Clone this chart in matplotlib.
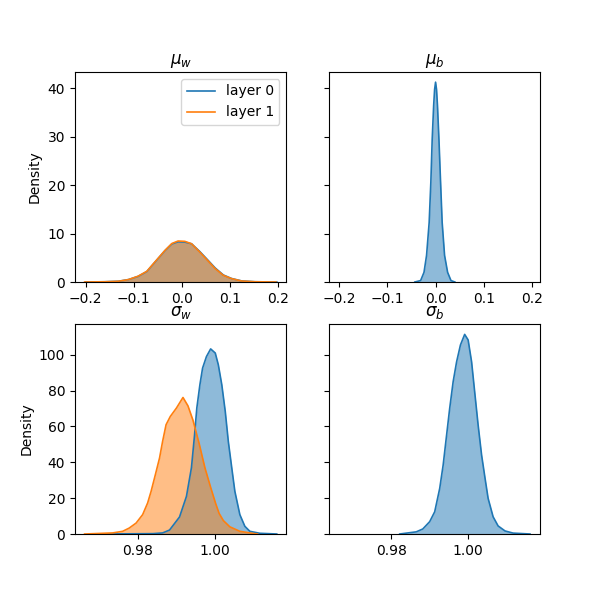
"""
Posterior densities of the layer parameters (mu / sigma for weights and biases).
"""

import matplotlib

matplotlib.use("Agg")

import matplotlib.pyplot as plt  # noqa: E402

# --- data (x, density) ------------------------------------------------------
mu_w_x0 = [-0.200, -0.160, -0.132, -0.111, -0.091, -0.073, -0.056, -0.035, -0.021,
           -0.008, 0.006, 0.020, 0.037, 0.055, 0.069, 0.086, 0.103, 0.124, 0.152, 0.197]
mu_w_y0 = [0.0, 0.05, 0.15, 0.5, 1.15, 2.15, 4.1, 6.5, 7.85, 8.3, 8.25, 7.9, 6.3,
           4.4, 2.9, 1.45, 0.72, 0.22, 0.05, 0.0]
mu_w_x1 = [-0.202, -0.160, -0.132, -0.111, -0.091, -0.073, -0.056, -0.035, -0.021,
           -0.008, 0.006, 0.020, 0.037, 0.055, 0.069, 0.086, 0.103, 0.124, 0.152, 0.195]
mu_w_y1 = [0.0, 0.05, 0.15, 0.5, 1.2, 2.2, 4.15, 6.55, 7.95, 8.47, 8.4, 7.9, 6.2,
           4.28, 2.77, 1.38, 0.70, 0.2, 0.05, 0.0]

mu_b_x0 = [-0.043, -0.031, -0.024, -0.0187, -0.0133, -0.0098, -0.007, -0.004, -0.002,
           0.0, 0.002, 0.004, 0.007, 0.0104, 0.0137, 0.0187, 0.025, 0.032, 0.040]
mu_b_y0 = [0.0, 0.3, 2.0, 5.5, 12.3, 20.6, 29.5, 36.4, 39.8, 41.3, 39.8, 36.4, 29.5,
           20.6, 12.3, 5.5, 2.0, 0.3, 0.0]

sigma_w_x0 = [0.9715, 0.9840, 0.9865, 0.9883, 0.9909, 0.9927, 0.9940, 0.9948, 0.9954,
              0.9962, 0.9969, 0.9979, 0.9990, 1.0002, 1.0010, 1.0019, 1.0028, 1.0036,
              1.0045, 1.0053, 1.0066, 1.0079, 1.0092, 1.0118, 1.0162]
sigma_w_y0 = [0.0, 0.2, 0.6, 2.2, 9.5, 21.0, 37.0, 55.0, 70.3, 83.3, 92.6, 99.0, 103.3,
              101.0, 94.4, 83.3, 68.4, 51.6, 36.8, 23.8, 10.8, 4.3, 1.5, 0.4, 0.0]
sigma_w_x1 = [0.9662, 0.9735, 0.9761, 0.9778, 0.9796, 0.9813, 0.9826, 0.9835, 0.9846,
              0.9857, 0.9865, 0.9874, 0.9885, 0.9901, 0.9918, 0.9931, 0.9944, 0.9960,
              0.9975, 0.9990, 1.0003, 1.0012, 1.0023, 1.0040, 1.0066, 1.0101, 1.0112]
sigma_w_y1 = [0.0, 0.6, 1.5, 3.3, 6.1, 10.8, 17.3, 23.8, 33.0, 42.4, 51.7, 61.0, 65.6,
              70.3, 76.2, 71.5, 63.5, 50.5, 37.0, 26.0, 17.0, 11.5, 7.5, 4.0, 1.5, 0.3, 0.0]

sigma_b_x0 = [0.9822, 0.9865, 0.9882, 0.9900, 0.9913, 0.9926, 0.9935, 0.9943, 0.9952,
              0.9961, 0.9970, 0.9980, 0.9991, 1.0000, 1.0009, 1.0017, 1.0026, 1.0035,
              1.0044, 1.0052, 1.0065, 1.0078, 1.0096, 1.0117, 1.0161]
sigma_b_y0 = [0.0, 1.2, 2.8, 6.9, 12.4, 25.4, 38.5, 53.4, 70.1, 85.0, 96.1, 105.5, 111.4,
              108.3, 96.1, 79.4, 60.8, 44.1, 31.1, 19.9, 9.6, 4.5, 1.7, 0.5, 0.0]

layer_labels = ["layer 0", "layer 1"]
titles = [r"$\mu_w$", r"$\mu_b$", r"$\sigma_w$", r"$\sigma_b$"]
colors = ["C0", "C1"]


def draw_kde(ax, xs, ys, color, label=None):
    ax.fill_between(xs, ys, 0, color=color, alpha=0.5, linewidth=0)
    ax.plot(xs, ys, color=color, linewidth=1.2, label=label)


fig, axes = plt.subplots(2, 2, figsize=(6, 6), sharex="row", sharey="row")

panels = [
    [(mu_w_x0, mu_w_y0), (mu_w_x1, mu_w_y1)],
    [(mu_b_x0, mu_b_y0)],
    [(sigma_w_x0, sigma_w_y0), (sigma_w_x1, sigma_w_y1)],
    [(sigma_b_x0, sigma_b_y0)],
]

for ax, title, curves in zip(axes.flat, titles, panels):
    for i, (xs, ys) in enumerate(curves):
        draw_kde(ax, xs, ys, colors[i], label=layer_labels[i])
    ax.set_title(title)

axes[0, 0].set_xlim(-0.222, 0.2168)
axes[0, 0].set_ylim(0, 43.4)
axes[1, 0].set_xlim(0.9637, 1.0187)
axes[1, 0].set_ylim(0, 117.2)

axes[0, 0].set_ylabel("Density")
axes[1, 0].set_ylabel("Density")
axes[0, 0].legend(loc="upper right")

fig.savefig("out.png", dpi=100)
plt.close(fig)
